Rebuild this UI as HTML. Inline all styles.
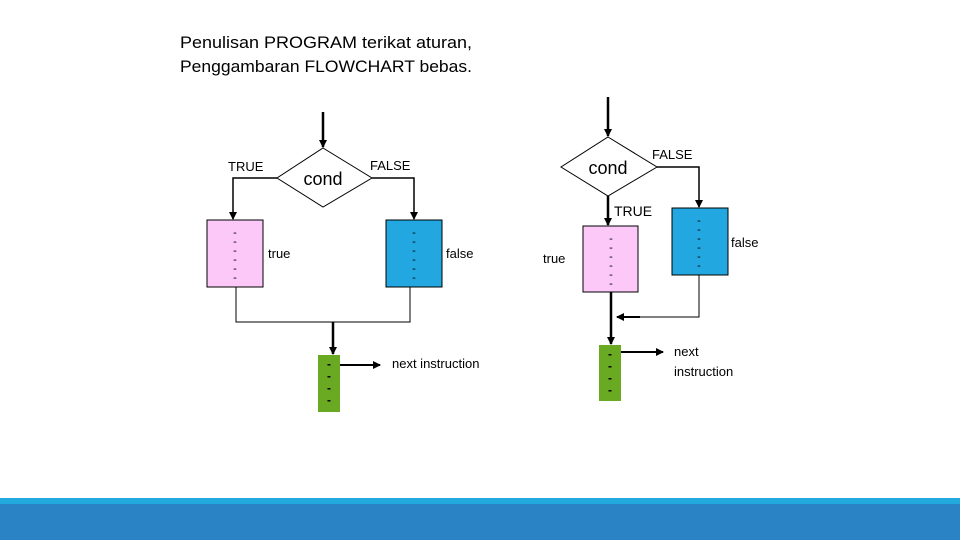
<!DOCTYPE html>
<html><head><meta charset="utf-8"><style>
html,body{margin:0;padding:0;background:#fff;}
svg{display:block;}
text{font-family:"Liberation Sans",sans-serif;fill:#000;}
</style></head><body>
<svg width="960" height="540" viewBox="0 0 960 540" xmlns="http://www.w3.org/2000/svg">
<defs>
<marker id="a" markerWidth="8" markerHeight="8" refX="7" refY="4" orient="auto" markerUnits="userSpaceOnUse">
<path d="M0,0 L8,4 L0,8 z" fill="#000"/></marker>
</defs>
<text x="180" y="48" font-size="17" textLength="292" lengthAdjust="spacingAndGlyphs">Penulisan PROGRAM terikat aturan,</text>
<text x="180" y="72" font-size="17" textLength="292" lengthAdjust="spacingAndGlyphs">Penggambaran  FLOWCHART bebas.</text>

<!-- LEFT DIAGRAM -->
<line x1="323" y1="112" x2="323" y2="147" stroke="#000" stroke-width="2.5" marker-end="url(#a)"/>
<polygon points="323,148 372,178 323,207 277,178" fill="#fff" stroke="#000" stroke-width="1"/>
<text x="323" y="185" font-size="18" text-anchor="middle">cond</text>
<text x="228" y="171" font-size="13">TRUE</text>
<text x="370" y="170" font-size="13">FALSE</text>
<polyline points="277,178 233,178 233,219" fill="none" stroke="#000" stroke-width="1.5" marker-end="url(#a)"/>
<polyline points="372,178 414,178 414,219" fill="none" stroke="#000" stroke-width="1.5" marker-end="url(#a)"/>
<rect x="207" y="220" width="56" height="67" fill="#fcc8f8" stroke="#000" stroke-width="1"/>
<rect x="386" y="220" width="56" height="67" fill="#22a7e0" stroke="#000" stroke-width="1"/>
<g font-size="11" text-anchor="middle">
<text x="235" y="236">-</text><text x="235" y="245">-</text><text x="235" y="254">-</text><text x="235" y="263">-</text><text x="235" y="272">-</text><text x="235" y="281">-</text>
<text x="414" y="236">-</text><text x="414" y="245">-</text><text x="414" y="254">-</text><text x="414" y="263">-</text><text x="414" y="272">-</text><text x="414" y="281">-</text>
</g>
<text x="268" y="258" font-size="13">true</text>
<text x="446" y="258" font-size="13">false</text>
<polyline points="236,287 236,322 410,322 410,287" fill="none" stroke="#000" stroke-width="1"/>
<line x1="333" y1="322" x2="333" y2="354" stroke="#000" stroke-width="2.5" marker-end="url(#a)"/>
<rect x="318" y="355" width="22" height="57" fill="#6aaa22"/>
<g font-size="12" text-anchor="middle" font-weight="bold">
<text x="329" y="368">-</text><text x="329" y="380">-</text><text x="329" y="392">-</text><text x="329" y="404">-</text>
</g>
<line x1="340" y1="365" x2="380" y2="365" stroke="#000" stroke-width="2" marker-end="url(#a)"/>
<text x="392" y="368" font-size="13">next instruction</text>

<!-- RIGHT DIAGRAM -->
<line x1="608" y1="97" x2="608" y2="136" stroke="#000" stroke-width="2.5" marker-end="url(#a)"/>
<polygon points="608,137 657,167 608,196 561,167" fill="#fff" stroke="#000" stroke-width="1"/>
<text x="608" y="174" font-size="18" text-anchor="middle">cond</text>
<text x="652" y="159" font-size="13">FALSE</text>
<text x="614" y="216" font-size="14">TRUE</text>
<line x1="608" y1="196" x2="608" y2="225" stroke="#000" stroke-width="2.5" marker-end="url(#a)"/>
<polyline points="657,167 699,167 699,207" fill="none" stroke="#000" stroke-width="1.5" marker-end="url(#a)"/>
<rect x="583" y="226" width="55" height="66" fill="#fcc8f8" stroke="#000" stroke-width="1"/>
<rect x="672" y="208" width="56" height="67" fill="#22a7e0" stroke="#000" stroke-width="1"/>
<g font-size="11" text-anchor="middle">
<text x="611" y="242">-</text><text x="611" y="251">-</text><text x="611" y="260">-</text><text x="611" y="269">-</text><text x="611" y="278">-</text><text x="611" y="287">-</text>
<text x="699" y="224">-</text><text x="699" y="233">-</text><text x="699" y="242">-</text><text x="699" y="251">-</text><text x="699" y="260">-</text><text x="699" y="269">-</text>
</g>
<text x="543" y="263" font-size="13">true</text>
<text x="731" y="247" font-size="13">false</text>
<polyline points="699,275 699,317 618,317" fill="none" stroke="#000" stroke-width="1"/>
<line x1="640" y1="317" x2="617" y2="317" stroke="#000" stroke-width="2" marker-end="url(#a)"/>
<line x1="611" y1="292" x2="611" y2="344" stroke="#000" stroke-width="2.5" marker-end="url(#a)"/>
<rect x="599" y="345" width="22" height="56" fill="#6aaa22"/>
<g font-size="12" text-anchor="middle" font-weight="bold">
<text x="610" y="358">-</text><text x="610" y="370">-</text><text x="610" y="382">-</text><text x="610" y="394">-</text>
</g>
<line x1="621" y1="352" x2="663" y2="352" stroke="#000" stroke-width="2" marker-end="url(#a)"/>
<text x="674" y="356" font-size="13">next</text>
<text x="674" y="376" font-size="13">instruction</text>

<!-- bottom bar -->
<rect x="0" y="498" width="960" height="7" fill="#22a9dd"/>
<rect x="0" y="504" width="960" height="36" fill="#2983c5"/>
</svg>
</body></html>
